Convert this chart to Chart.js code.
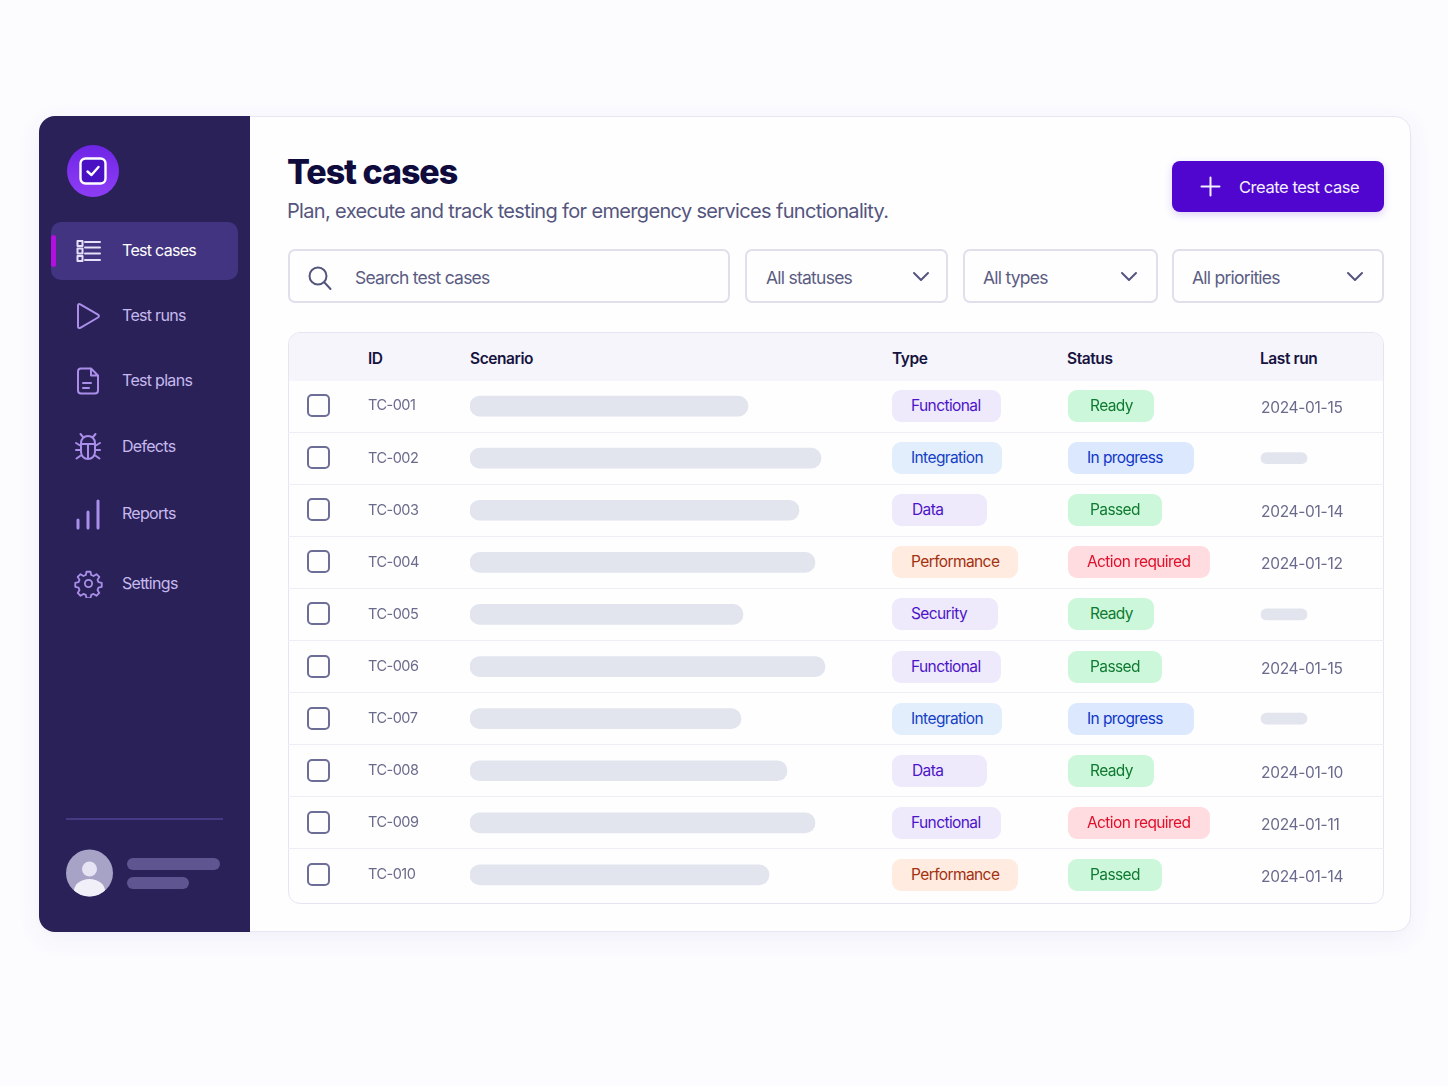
<!DOCTYPE html>
<html>
<head>
<meta charset="utf-8">
<title>Test cases</title>
<script src="https://cdn.jsdelivr.net/npm/chart.js@4"></script>
<style>
  * { box-sizing: border-box; }
  html, body { margin: 0; width: 1448px; height: 1086px; overflow: hidden; background: #fcfcff; font-family: Inter, sans-serif; }
  .abs { position: absolute; }
  .card { left: 39px; top: 116px; width: 1372px; height: 816px; background: #fefeff; border: 1px solid #e7e7f3; border-radius: 16px; box-shadow: 0 6px 24px rgba(70, 60, 160, .07); }
  .sidebar { left: 39px; top: 116px; width: 211px; height: 816px; background: #2a2158; border-radius: 16px 0 0 16px; }
  .logo { left: 67px; top: 145px; width: 52px; height: 52px; border-radius: 50%; background: linear-gradient(180deg, #6f25e6, #8e3df5); }
  .active { left: 51px; top: 222px; width: 187px; height: 58px; background: #433481; border-radius: 10px; }
  .accent { left: 51px; top: 235px; width: 5px; height: 32px; background: #b30fe0; border-radius: 3px; }
  .nav { left: 122px; font-size: 16px; letter-spacing: -.7px; color: #c6b9ee; line-height: 20px; }
  .nav.on { color: #fff; }
  .icon { left: 72px; width: 32px; height: 32px; fill: none; stroke: #a98fe9; stroke-width: 2; stroke-linecap: round; stroke-linejoin: round; }
  h1 { margin: 0; left: 287px; top: 150px; font-size: 34px; line-height: 44px; font-weight: 800; letter-spacing: -1.05px; color: #0f0b3d; }
  .sub { left: 287px; top: 198px; font-size: 20px; line-height: 26px; letter-spacing: -.66px; color: #55567e; }
  .btn { left: 1172px; top: 161px; width: 212px; height: 51px; background: #5006cf; border-radius: 8px; box-shadow: 0 3px 8px rgba(80, 6, 207, .18); }
  .btn span { position: absolute; left: 67px; top: 16px; color: #f4f0ff; font-size: 16.5px; line-height: 21px; letter-spacing: -.45px; }
  .box { top: 249px; height: 54px; border: 2px solid #dfe0ec; border-radius: 7px; background: #fefeff; color: #5b5c82; font-size: 17.5px; line-height: 54px; letter-spacing: -.75px; }
  .box svg { position: absolute; top: 15px; fill: none; stroke: #54557c; stroke-width: 2; stroke-linecap: round; stroke-linejoin: round; }
  .table { left: 288px; top: 332px; width: 1096px; height: 572px; border: 1px solid #e5e6f1; border-radius: 12px; overflow: hidden; background: #fefeff; }
  .head { position: absolute; left: 0; top: 0; width: 100%; height: 48px; background: #f5f5fb; }
  .th { top: 349px; font-size: 15.5px; line-height: 20px; font-weight: 600; letter-spacing: -.42px; color: #16133f; }
  #tableChartWrap { left: 288px; top: 380px; width: 1096px; height: 521px; }
  .check { left: 307px; width: 23px; height: 23px; border: 2px solid #6d6e97; border-radius: 5px; background: #fefeff; }
  .pill { height: 32px; border-radius: 9px; font-size: 15.5px; line-height: 32px; letter-spacing: -.6px; white-space: nowrap; }
  .date { left: 1261px; font-size: 15.5px; line-height: 20px; letter-spacing: -.3px; color: #6a6b8c; }
</style>
</head>
<body>
<div class="abs card"></div>
<div class="abs sidebar"></div>

<div class="abs logo"></div>
<svg class="abs" style="left:79px;top:157px" width="28" height="28" viewBox="0 0 28 28">
  <rect x="1.500" y="1.500" width="25" height="25" rx="5" fill="#4a10c4" stroke="#fff" stroke-width="2.400"/>
  <path d="M8.500 14.500l4 3.500 7-8" fill="none" stroke="#fff" stroke-width="2.400" stroke-linecap="round" stroke-linejoin="round"/>
</svg>

<div class="abs active"></div>
<div class="abs accent"></div>

<svg class="abs icon" style="top:235px;stroke:#e6e1fa" viewBox="0 0 32 32">
  <rect x="5.500" y="6" width="5" height="5"/><rect x="5.500" y="13.500" width="5" height="5"/><rect x="5.500" y="21" width="5" height="5"/>
  <path d="M13 7h15M13 12.500h15M13 18.500h15M13 25h15"/>
</svg>
<svg class="abs icon" style="top:300px" viewBox="0 0 32 32"><path d="M6 5.500v21c0 1.500 1 2 2.300 1.300L26 17.500c1.200-.8 1.200-2 0-2.800L8.300 4.300C7 3.500 6 4 6 5.500z"/></svg>
<svg class="abs icon" style="top:365px" viewBox="0 0 32 32"><path d="M19 3.500H9a3 3 0 0 0-3 3v19a3 3 0 0 0 3 3h14a3 3 0 0 0 3-3V10.500zM19 3.500v7h7M11 18h8M11 23h6"/></svg>
<svg class="abs icon" style="top:431px" viewBox="0 0 32 32"><path d="M9 12c0-4 3-7 7-7s7 3 7 7v9c0 4-3 7-7 7s-7-3-7-7zM9 13h14M16 13v15M11 6L8.500 3M21 6l2.500-3M9 15l-5-3M23 15l5-3M9 19H4M23 19h5M9.500 24l-5 3.500M22.500 24l5 3.500"/></svg>
<svg class="abs icon" style="top:498px;stroke-width:3" viewBox="0 0 32 32"><path d="M6 30V22M16 30V14M26 30V3"/></svg>
<svg class="abs icon" style="top:569px;left:74px;width:29px;height:29px" viewBox="0 0 32 32"><circle cx="16" cy="16" r="4"/><path d="M13.800 3h4.400l.8 3.600 2.600 1.100 3.200-2 3.100 3.100-2 3.200 1.100 2.600 3.600.8v4.400l-3.600.8-1.100 2.600 2 3.200-3.100 3.100-3.200-2-2.600 1.100-.8 3.600h-4.400l-.8-3.600-2.600-1.100-3.200 2-3.100-3.100 2-3.200-1.100-2.600-3.600-.8v-4.400l3.600-.8 1.100-2.600-2-3.200 3.100-3.100 3.200 2 2.600-1.100z"/></svg>

<div class="abs nav on" style="top:240px">Test cases</div>
<div class="abs nav" style="top:305px">Test runs</div>
<div class="abs nav" style="top:370px">Test plans</div>
<div class="abs nav" style="top:436px">Defects</div>
<div class="abs nav" style="top:503px">Reports</div>
<div class="abs nav" style="top:573px">Settings</div>

<div class="abs" style="left:66px;top:818px;width:157px;height:1.500px;background:#463a84"></div>
<svg class="abs" style="left:66px;top:849px" width="47" height="48" viewBox="0 0 47 48">
  <defs><clipPath id="av"><circle cx="23.500" cy="24" r="23.500"/></clipPath></defs>
  <circle cx="23.500" cy="24" r="23.500" fill="#a6a3c7"/>
  <circle cx="23.500" cy="20" r="7.500" fill="#e6e4f3"/>
  <ellipse cx="23.500" cy="42" rx="15.500" ry="12" fill="#f1f0f8" clip-path="url(#av)"/>
</svg>
<div class="abs" style="left:127px;top:858px;width:93px;height:12px;background:#5f5591;border-radius:6px"></div>
<div class="abs" style="left:127px;top:877px;width:62px;height:12px;background:#5f5591;border-radius:6px"></div>

<h1 class="abs">Test cases</h1>
<div class="abs sub">Plan, execute and track testing for emergency services functionality.</div>

<div class="abs btn">
  <svg class="abs" style="left:28px;top:15px" width="21" height="21" viewBox="0 0 21 21"><path d="M10.500 1.500v18M1.500 10.500h18" stroke="#f4f0ff" stroke-width="2" stroke-linecap="round"/></svg>
  <span>Create test case</span>
</div>

<div class="abs box" style="left:288px;width:442px;padding-left:65px">Search test cases
  <svg style="left:17px;top:14px" width="26" height="26" viewBox="0 0 26 26"><circle cx="11" cy="11" r="8.500"/><path d="M17.500 17.500l6 6.500"/></svg>
</div>
<div class="abs box" style="left:745px;width:203px;padding-left:19px">All statuses
  <svg style="left:165px;top:13px" width="18" height="26" viewBox="0 0 18 26"><path d="M2 9l7 7 7-7"/></svg>
</div>
<div class="abs box" style="left:963px;width:195px;padding-left:18px">All types
  <svg style="left:155px;top:13px" width="18" height="26" viewBox="0 0 18 26"><path d="M2 9l7 7 7-7"/></svg>
</div>
<div class="abs box" style="left:1172px;width:212px;padding-left:18px">All priorities
  <svg style="left:172px;top:13px" width="18" height="26" viewBox="0 0 18 26"><path d="M2 9l7 7 7-7"/></svg>
</div>

<div class="abs table"><div class="head"></div></div>
<div class="abs th" style="left:368px">ID</div>
<div class="abs th" style="left:470px">Scenario</div>
<div class="abs th" style="left:892px">Type</div>
<div class="abs th" style="left:1067px">Status</div>
<div class="abs th" style="left:1260px">Last run</div>

<div class="abs" id="tableChartWrap"><canvas id="tableChart" width="1096" height="521"></canvas></div>

<script>
const ids = ['TC-001', 'TC-002', 'TC-003', 'TC-004', 'TC-005', 'TC-006', 'TC-007', 'TC-008', 'TC-009', 'TC-010'];
// skeleton lengths
const scenarioLengths = [278, 351, 329, 345, 273, 355, 271, 317, 345, 299];
const lastRunLengths = [null, 46, null, null, 46, null, 46, null, null, null];
const types = ['Functional', 'Integration', 'Data', 'Performance', 'Security', 'Functional', 'Integration', 'Data', 'Functional', 'Performance'];
const statuses = ['Ready', 'In progress', 'Passed', 'Action required', 'Ready', 'Passed', 'In progress', 'Ready', 'Action required', 'Passed'];
const lastRuns = ['2024-01-15', null, '2024-01-14', '2024-01-12', null, '2024-01-15', null, '2024-01-10', '2024-01-11', '2024-01-14'];

const pillStyles = {
  Functional: { bg: '#efe9fc', fg: '#4c14c8', w: 109, pad: 19 },
  Integration: { bg: '#e3eefd', fg: '#1440c4', w: 110, pad: 19 },
  Data: { bg: '#efe9fc', fg: '#4c14c8', w: 95, pad: 20 },
  Performance: { bg: '#ffebe0', fg: '#a3300f', w: 126, pad: 19 },
  Security: { bg: '#efe9fc', fg: '#4c14c8', w: 106, pad: 19 },
  Ready: { bg: '#cdf7da', fg: '#0f7a30', w: 86, pad: 22 },
  Passed: { bg: '#cdf7da', fg: '#0f7a30', w: 94, pad: 22 },
  'In progress': { bg: '#dbe8fe', fg: '#0f36c8', w: 126, pad: 19 },
  'Action required': { bg: '#fedcdf', fg: '#e0102c', w: 142, pad: 19 }
};

// tightens the id labels on the y axis
const tightTicks = {
  id: 'tightTicks',
  beforeDraw(c) { c.ctx.letterSpacing = '-0.5px'; }
};

const chart = new Chart(document.getElementById('tableChart'), {
  type: 'bar',
  plugins: [tightTicks],
  data: {
    labels: ids,
    datasets: [
      {
        label: 'Scenario',
        data: scenarioLengths,
        backgroundColor: '#e2e4ee',
        barThickness: 20,
        borderRadius: 10,
        borderSkipped: false,
        grouped: false,
        xAxisID: 'x'
      },
      {
        label: 'Last run',
        data: lastRunLengths,
        backgroundColor: '#e2e4ee',
        barThickness: 11,
        borderRadius: 6,
        borderSkipped: false,
        grouped: false,
        xAxisID: 'xLast'
      }
    ]
  },
  options: {
    indexAxis: 'y',
    responsive: false,
    animation: false,
    events: [],
    layout: { padding: 0 },
    plugins: { legend: { display: false }, tooltip: { enabled: false } },
    scales: {
      x: { display: false, min: 0, max: 914 },
      xLast: { display: false, min: -791, max: 123 },
      y: {
        afterFit(scale) { scale.width = 182; },
        border: { display: false },
        grid: {
          color: ctx => (ctx.index === 0 || ctx.index === ids.length ? 'transparent' : '#eeeef6'),
          tickLength: 182,
          tickColor: ctx => (ctx.index === 0 || ctx.index === ids.length ? 'transparent' : '#eeeef6')
        },
        ticks: { mirror: true, padding: -102, color: '#6a6b8c', font: { family: 'Inter', size: 14.5 } }
      }
    }
  }
});

// rows hang off the chart's own y scale
const tableTop = 380;
function addPill(text, left, y) {
  const st = pillStyles[text];
  const el = document.createElement('div');
  el.className = 'abs pill';
  el.textContent = text;
  el.style.cssText = `left:${left}px;top:${y - 16}px;width:${st.w}px;padding-left:${st.pad}px;background:${st.bg};color:${st.fg}`;
  document.body.appendChild(el);
}
ids.forEach((id, i) => {
  const y = Math.round(tableTop + chart.scales.y.getPixelForValue(i));
  const box = document.createElement('div');
  box.className = 'abs check';
  box.style.top = (y - 12) + 'px';
  document.body.appendChild(box);
  addPill(types[i], 892, y);
  addPill(statuses[i], 1068, y);
  if (lastRuns[i]) {
    const d = document.createElement('div');
    d.className = 'abs date';
    d.textContent = lastRuns[i];
    d.style.top = (y - 8) + 'px';
    document.body.appendChild(d);
  }
});
</script>
</body>
</html>
